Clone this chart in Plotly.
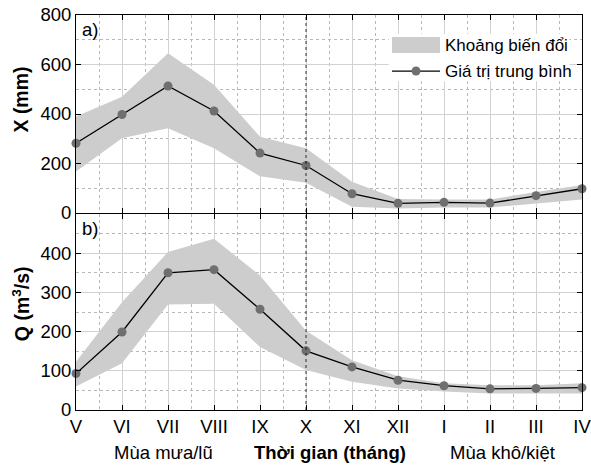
import plotly.graph_objects as go

months = ["V", "VI", "VII", "VIII", "IX", "X", "XI", "XII", "I", "II", "III", "IV"]

x_mean = [282, 398, 513, 412, 242, 192, 78, 39, 43, 40, 70, 98]
x_upper = [390, 470, 645, 518, 308, 262, 126, 57, 55, 55, 85, 113]
x_lower = [168, 302, 342, 262, 148, 122, 25, 18, 22, 22, 40, 55]

q_mean = [93, 199, 350, 358, 257, 151, 110, 76, 62, 54, 55, 57]
q_upper = [123, 275, 403, 437, 343, 202, 127, 86, 68, 63, 63, 68]
q_lower = [60, 119, 269, 271, 161, 102, 72, 55, 47, 42, 42, 42]

xs = list(range(len(months)))
FONT = "Liberation Sans, Arial, sans-serif"
BAND = "#cdcdcd"
MARK = "#6f6f6f"
TICK_SIZE = 18.5

fig = go.Figure()

def add_panel(mean, up, lo, yax):
    xa = "x" if yax == "y" else "x2"
    fig.add_trace(go.Scatter(
        x=xs + xs[::-1], y=up + lo[::-1], fill="toself", fillcolor=BAND,
        line=dict(width=0), mode="lines", hoverinfo="skip", showlegend=False,
        xaxis=xa, yaxis=yax))
    fig.add_trace(go.Scatter(
        x=xs, y=mean, mode="lines+markers", line=dict(color="black", width=1.3),
        marker=dict(color=MARK, size=9), cliponaxis=False, showlegend=False,
        xaxis=xa, yaxis=yax))

add_panel(x_mean, x_upper, x_lower, "y")
add_panel(q_mean, q_upper, q_lower, "y2")

grid_major = "#d2d2d2"
grid_minor = "#b8b8b8"

xcommon = dict(range=[0, len(months) - 1], tickvals=xs, ticktext=months,
               showline=True, linecolor="black", linewidth=1, mirror="allticks",
               ticks="inside", ticklen=5, tickcolor="black", automargin=False,
               ticklabeloverflow="allow",
               showgrid=True, gridcolor=grid_major, gridwidth=1, zeroline=False,
               minor=dict(dtick=0.5, tick0=0, showgrid=True, gridcolor=grid_minor,
                          griddash="dot", gridwidth=1, ticks=""),
               tickfont=dict(family=FONT, size=TICK_SIZE, color="black"), fixedrange=True)

top_dom = [197 / 395, 1.0]
bot_dom = [0.0, 196 / 395]

fig.update_layout(
    width=591, height=466, autosize=False,
    margin=dict(l=76, r=9, t=15, b=56),
    plot_bgcolor="white", paper_bgcolor="white",
    font=dict(family=FONT, size=17, color="black"),
    xaxis=dict(**xcommon, anchor="y", showticklabels=False),
    xaxis2=dict(**xcommon, anchor="y2", showticklabels=True),
    yaxis=dict(domain=top_dom, range=[0, 800], dtick=200, tick0=0,
               showline=True, linecolor="black", mirror="allticks",
               ticks="inside", ticklen=5, tickcolor="black", automargin=False,
               ticklabeloverflow="allow",
               showgrid=True, gridcolor=grid_major, zeroline=False,
               minor=dict(dtick=100, showgrid=True, gridcolor=grid_minor,
                          griddash="dot", ticks=""),
               tickfont=dict(family=FONT, size=TICK_SIZE, color="black"), anchor="x"),
    yaxis2=dict(domain=bot_dom, range=[0, 500], tickvals=[0, 100, 200, 300, 400],
                showline=True, linecolor="black", mirror="allticks",
                ticks="inside", ticklen=5, tickcolor="black", automargin=False,
                ticklabeloverflow="allow",
                showgrid=True, gridcolor=grid_major, zeroline=False,
                minor=dict(dtick=50, showgrid=True, gridcolor=grid_minor,
                           griddash="dot", ticks=""),
                tickfont=dict(family=FONT, size=TICK_SIZE, color="black"), anchor="x2"),
    showlegend=False,
)

# vertical dotted divider at month X
ix = months.index("X")
fig.add_shape(type="line", xref="x", yref="paper", x0=ix, x1=ix, y0=0, y1=1,
              line=dict(color="black", width=0.8, dash="dot"), layer="above")

# legend (manual)
fig.add_shape(type="rect", xref="x domain", yref="y domain",
              x0=0.618, x1=0.975, y0=0.665, y1=0.905,
              fillcolor="white", line=dict(width=0), layer="above")
fig.add_shape(type="rect", xref="x domain", yref="y domain",
              x0=0.6245, x1=0.7194, y0=0.808, y1=0.889,
              fillcolor=BAND, line=dict(width=0), layer="above")
fig.add_shape(type="line", xref="x domain", yref="y domain",
              x0=0.6245, x1=0.7194, y0=0.717, y1=0.717,
              line=dict(color="black", width=1.3), layer="above")
fig.add_shape(type="circle", xref="x domain", yref="y domain",
              xsizemode="pixel", ysizemode="pixel", xanchor=0.672, yanchor=0.717,
              x0=-4.5, x1=4.5, y0=-4.5, y1=4.5,
              fillcolor=MARK, line=dict(width=0), layer="above")
fig.add_annotation(text="Khoảng biến đổi", xref="x domain", yref="y domain",
                   x=0.7253, y=0.848, xanchor="left", yanchor="middle",
                   showarrow=False, font=dict(size=17))
fig.add_annotation(text="Giá trị trung bình", xref="x domain", yref="y domain",
                   x=0.7253, y=0.717, xanchor="left", yanchor="middle",
                   showarrow=False, font=dict(size=17))

# panel labels
fig.add_annotation(text="a)", xref="x domain", yref="y domain", x=0.008, y=0.925,
                   xanchor="left", yanchor="middle", showarrow=False, font=dict(size=TICK_SIZE))
fig.add_annotation(text="b)", xref="x2 domain", yref="y2 domain", x=0.008, y=0.925,
                   xanchor="left", yanchor="middle", showarrow=False, font=dict(size=TICK_SIZE))

# y-axis titles
fig.add_annotation(text="<b>X (mm)</b>", xref="paper", yref="y domain",
                   x=(21 - 76) / 506, y=0.573, xanchor="center", yanchor="middle",
                   textangle=-90, showarrow=False, font=dict(size=19.5))
fig.add_annotation(text="<b>Q (m<sup>3</sup>/s)</b>", xref="paper", yref="y2 domain",
                   x=(21 - 76) / 506, y=0.54, xanchor="center", yanchor="middle",
                   textangle=-90, showarrow=False, font=dict(size=19.5))

# bottom captions
for txt, px in [("Mùa mưa/lũ", 163), ("<b>Thời gian (tháng)</b>", 330), ("Mùa khô/kiệt", 502)]:
    fig.add_annotation(text=txt, xref="paper", yref="paper", x=(px - 76) / 506, y=0,
                       yshift=-42, xanchor="center", yanchor="middle",
                       showarrow=False, font=dict(size=TICK_SIZE))

fig.write_html("out.html", config={"displayModeBar": False, "responsive": False},
               post_script="document.body.style.margin='0';document.body.style.overflow='hidden';")
